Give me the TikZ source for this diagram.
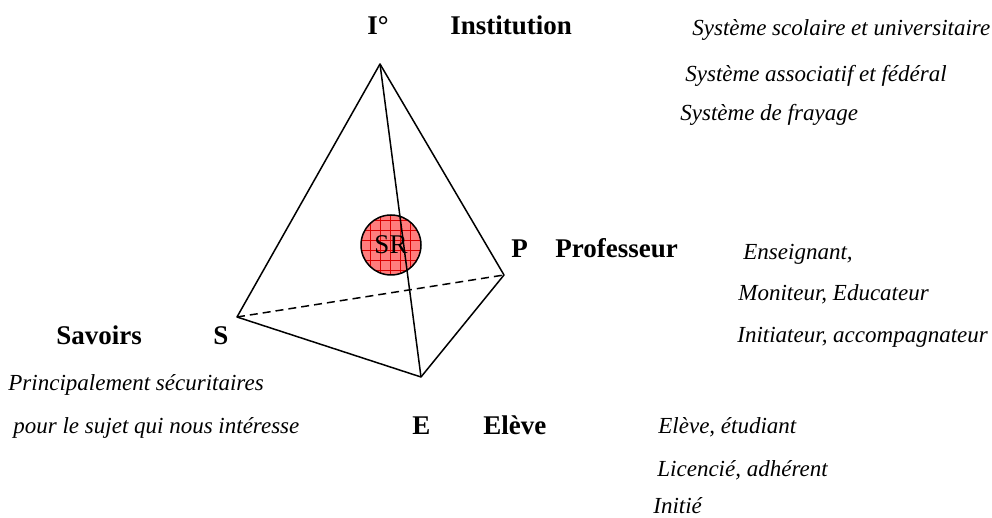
\documentclass[tikz,border=0pt]{standalone}
\usepackage{fontspec}
\setmainfont{Liberation Serif}
\usetikzlibrary{backgrounds}
\tikzset{vlabel/.style={font=\fontsize{13.5}{16}\selectfont\bfseries,
                        inner sep=0pt,anchor=base west}}
\tikzset{note/.style={font=\fontsize{11.5}{14}\selectfont\itshape,
                      inner sep=0pt,anchor=base west}}
\definecolor{srfill}{RGB}{255,125,125}

\begin{document}
\begin{tikzpicture}[x=0.5pt,y=-0.5pt]
	\tikzstyle{edge}=[line width=0.75pt,line join=round]
    % page frame, same proportions as the original figure
    \useasboundingbox (0,0) rectangle (992,518);

  % The four corners of the tetrahedron:
  \coordinate (I) at (380,64);
  \coordinate (S) at (237,317);
  \coordinate (P) at (504,275);
  \coordinate (E) at (421,377);

    % Central circle: "savoirs de reference"
    \node (SR) [circle,minimum size=30pt,inner sep=0pt,fill=srfill] at (391,245) {};
    \begin{scope}
      \clip (SR.center) circle (15pt);
      \draw[red!85!black,line width=0.2pt,step=5pt] (355,209) grid (427,281);
    \end{scope}
    \node [circle,minimum size=30pt,inner sep=0pt,draw,line width=0.75pt,
           font=\fontsize{13.5}{15}\selectfont] at (SR.center) {SR};

    % The edges, the hidden one is dashed:
    \draw[edge] (I) -- (S) -- (E) -- (P) -- cycle;
    \draw[edge] (I) -- (E);
    \draw[edge,dashed,dash pattern=on 4pt off 2.5pt] (S) -- (P);

  % First line: Institution
  \node (Ilbl)  [vlabel] at (367,35)  {I°};
  \node (Inst)  [vlabel] at (450,35)  {Institution};
  \node (inst1) [note]   at (692,36)  {Système scolaire et universitaire};
  \node (inst2) [note]   at (685,82)  {Système associatif et fédéral};
  \node (inst3) [note]   at (680,121) {Système de frayage};

  % Professeur
  \node (Plbl)  [vlabel] at (511,258) {P};
  \node (Prof)  [vlabel] at (555,258) {Professeur};
  \node (prof1) [note]   at (743,260) {Enseignant,};
  \node (prof2) [note]   at (738,301) {Moniteur, Educateur};
  \node (prof3) [note]   at (737,343) {Initiateur, accompagnateur};

  % Savoirs
  \node (Sav)   [vlabel] at (56,345)  {Savoirs};
  \node (Slbl)  [vlabel] at (213,345) {S};
  \node (sav1)  [note]   at (8,391)   {Principalement sécuritaires};
  \node (sav2)  [note]   at (13,434)  {pour le sujet qui nous intéresse};

  % Eleve
  \node (Elbl)  [vlabel] at (412,435) {E};
  \node (Elev)  [vlabel] at (483,435) {Elève};
  \node (elev1) [note]   at (658,434) {Elève, étudiant};
  \node (elev2) [note]   at (657,477) {Licencié, adhérent};
  \node (elev3) [note]   at (653,514) {Initié};
\end{tikzpicture}
\end{document}
